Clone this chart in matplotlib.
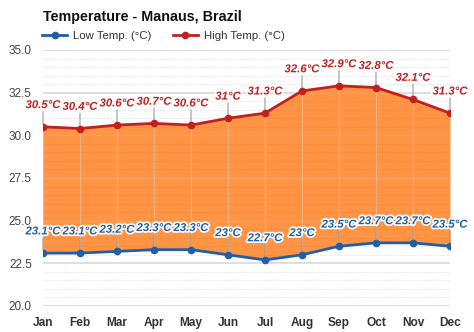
import matplotlib
matplotlib.use("Agg")
import matplotlib.pyplot as plt
import matplotlib.patheffects as pe
import numpy as np

months = ["Jan", "Feb", "Mar", "Apr", "May", "Jun", "Jul", "Aug", "Sep", "Oct", "Nov", "Dec"]
low = [23.1, 23.1, 23.2, 23.3, 23.3, 23.0, 22.7, 23.0, 23.5, 23.7, 23.7, 23.5]
high = [30.5, 30.4, 30.6, 30.7, 30.6, 31.0, 31.3, 32.6, 32.9, 32.8, 32.1, 31.3]
low_labels = ["23.1°C", "23.1°C", "23.2°C", "23.3°C", "23.3°C", "23°C", "22.7°C", "23°C", "23.5°C", "23.7°C", "23.7°C", "23.5°C"]
high_labels = ["30.5°C", "30.4°C", "30.6°C", "30.7°C", "30.6°C", "31°C", "31.3°C", "32.6°C", "32.9°C", "32.8°C", "32.1°C", "31.3°C"]
yticks = [20.0, 22.5, 25.0, 27.5, 30.0, 32.5, 35.0]

plt.rcParams['font.family'] = ['Liberation Sans', 'DejaVu Sans']

fig = plt.figure(figsize=(4.74, 3.32), dpi=100)
ax = fig.add_axes([43/474, 26/332, (450-43)/474, (306-50)/332])
x = np.arange(len(months))

ax.set_xlim(0, 11)
ax.set_ylim(20, 35)

# grid
for v in np.arange(20, 35.01, 0.5):
    if abs(v / 2.5 - round(v / 2.5)) < 1e-6:
        ax.axhline(v, color="#d8d8d8", lw=1.2, zorder=0)
    else:
        ax.axhline(v, color="#ececec", lw=0.8, ls=(0, (2, 1)), zorder=0)

fill = ax.fill_between(x, low, high, color="#ff9445", zorder=1, lw=0)
clip_path = fill.get_paths()[0]
for v in np.arange(20, 35.01, 0.5):
    major = abs(v / 2.5 - round(v / 2.5)) < 1e-6
    ln = ax.axhline(v, color="#f0893c" if not major else "#f3a066",
                    lw=0.6 if not major else 1.0,
                    ls=(0, (2, 1.5)) if not major else "-", zorder=1.2)
    ln.set_clip_path(clip_path, ax.transData)
for xi, lo, hi in zip(x, low, high):
    ax.plot([xi, xi], [lo, hi], color="#fdb27c", lw=0.8, zorder=1.5)

ax.plot(x, low, color="#1f5fa8", lw=2, marker="o", ms=4.5, zorder=3, label="Low Temp. (°C)")
ax.plot(x, high, color="#c2201f", lw=2, marker="o", ms=4.5, zorder=3, label="High Temp. (°C)")

stroke = [pe.withStroke(linewidth=2.5, foreground="white")]
for xi, v, t in zip(x, low, low_labels):
    ax.annotate("", xy=(xi, v), xytext=(0, 11), textcoords="offset points",
                arrowprops=dict(arrowstyle="-", color="#999999", lw=0.8, shrinkA=0, shrinkB=2), zorder=2.5)
    ax.annotate(t, xy=(xi, v), xytext=(0, 12), textcoords="offset points", ha="center", va="bottom",
                color="#1f5fa8", fontsize=8.2, fontweight="bold", fontstyle="italic",
                path_effects=stroke, zorder=4, annotation_clip=False)
for xi, v, t in zip(x, high, high_labels):
    ax.annotate("", xy=(xi, v), xytext=(0, 11), textcoords="offset points",
                arrowprops=dict(arrowstyle="-", color="#999999", lw=0.8, shrinkA=0, shrinkB=2), zorder=2.5)
    ax.annotate(t, xy=(xi, v), xytext=(0, 12), textcoords="offset points", ha="center", va="bottom",
                color="#c2201f", fontsize=8.2, fontweight="bold", fontstyle="italic",
                path_effects=stroke, zorder=4, annotation_clip=False)

ax.set_xticks(x)
ax.set_xticklabels(months, fontsize=8.6, fontweight="bold", color="#333333")
ax.set_yticks(yticks)
ax.set_yticklabels([f"{v:.1f}" for v in yticks], fontsize=8.5, color="#444444")
ax.tick_params(length=0, pad=8)
ax.tick_params(axis="x", pad=8)
for s in ax.spines.values():
    s.set_visible(False)

fig.text(43/474, 1 - 17/332, "Temperature - Manaus, Brazil", fontsize=10.3, fontweight="bold",
         color="#111111", va="center", ha="left")
leg = fig.legend(loc="center left", bbox_to_anchor=(42/474, 1 - 36/332), ncol=2, frameon=False,
                 fontsize=8.2, handlelength=2.2, columnspacing=1.9, handletextpad=0.5,
                 borderaxespad=0, borderpad=0)
for t in leg.get_texts():
    t.set_color("#333333")

fig.savefig("out.png", dpi=100)
